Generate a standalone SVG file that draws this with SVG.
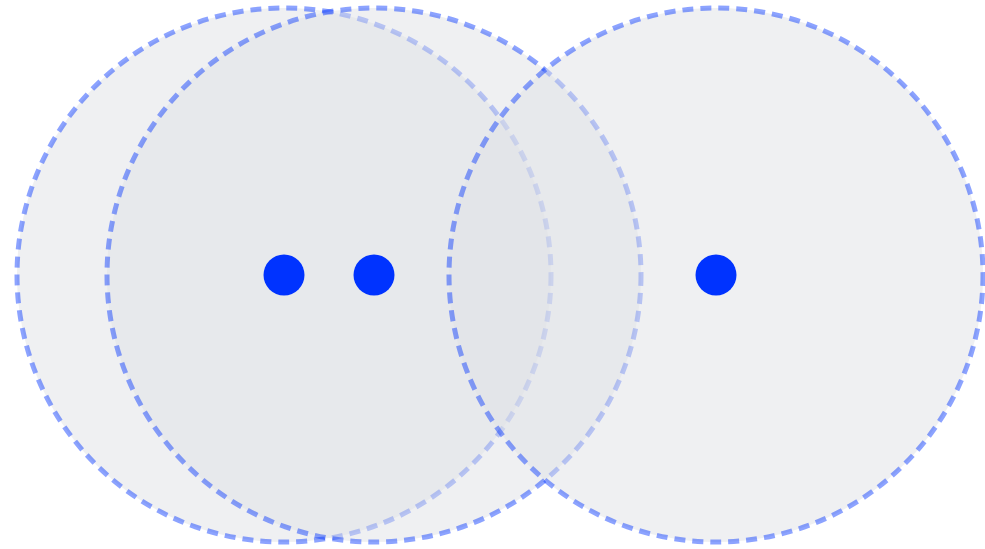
<svg xmlns="http://www.w3.org/2000/svg" width="985" height="549" viewBox="0 0 985 549">
<style>
.zone{fill:#dfe1e5;fill-opacity:0.5;stroke:#0033ff;stroke-opacity:0.45;stroke-width:5;stroke-dasharray:11 7}
.dot{fill:#0033ff}
</style>
<rect width="985" height="549" fill="#ffffff"/>
<g id="zone1"><circle class="zone" cx="284" cy="275" r="267"/></g>
<g id="zone2"><circle class="zone" cx="374" cy="275" r="267"/></g>
<g id="zone3"><circle class="zone" cx="716" cy="275" r="267"/></g>
<g id="dot1"><circle class="dot" cx="284" cy="275" r="20.5"/></g>
<g id="dot2"><circle class="dot" cx="374" cy="275" r="20.5"/></g>
<g id="dot3"><circle class="dot" cx="716" cy="275" r="20.5"/></g>
<g id="connectors"></g>
</svg>
